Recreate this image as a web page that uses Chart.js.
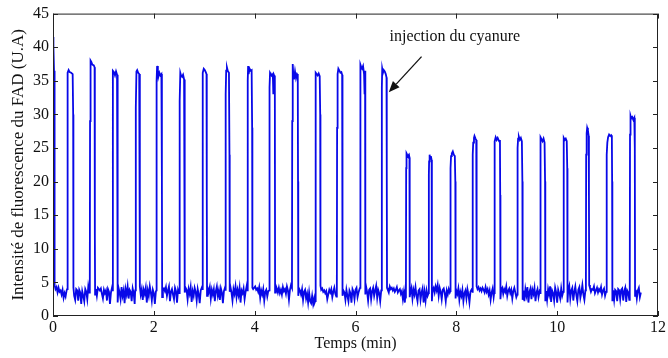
<!DOCTYPE html>
<html>
<head>
<meta charset="utf-8">
<script src="https://cdn.jsdelivr.net/npm/chart.js@4/dist/chart.umd.min.js"></script>
<style>
  html, body { margin: 0; padding: 0; background: #fff; }
  #wrap { width: 668px; height: 358px; position: relative; }
</style>
</head>
<body>
<div id="wrap"><canvas id="c" width="668" height="358"></canvas></div>
<script>
// ---- Data ----
const xTicks = [0, 2, 4, 6, 8, 10, 12];
const yTicks = [0, 5, 10, 15, 20, 25, 30, 35, 40, 45];
const xTitle = "Temps (min)";
const yTitle = "Intensité de fluorescence du FAD (U.A)";
const annotationText = "injection du cyanure";
const annotationTextAt = [7.97, 41.6];   // data coords (min, U.A)
const arrowFrom = [7.31, 38.6];
const arrowTo = [6.66, 33.3];

const temps = [
  0, 0.005, 0.012, 0.02, 0.028, 0.035, 0.05, 0.07, 0.09, 0.11, 0.13, 0.15, 0.17, 0.19, 0.21, 0.23, 0.25, 0.27,
  0.28, 0.285, 0.295, 0.31, 0.33, 0.36, 0.39, 0.40, 0.405, 0.42, 0.44, 0.46, 0.48, 0.50, 0.52, 0.54, 0.56, 0.58, 0.60, 0.62, 0.64, 0.66, 0.68, 0.70, 0.72,
  0.73, 0.735, 0.745, 0.76, 0.78, 0.81, 0.825, 0.83, 0.835, 0.85, 0.87, 0.89, 0.91, 0.93, 0.95, 0.97, 0.99, 1.01, 1.03, 1.05, 1.07, 1.09, 1.11, 1.13, 1.15, 1.17,
  1.18, 1.185, 1.19, 1.21, 1.23, 1.25, 1.27, 1.28, 1.285, 1.30, 1.32, 1.34, 1.36, 1.38, 1.40, 1.42, 1.44, 1.46, 1.48, 1.50, 1.52, 1.54, 1.56, 1.58, 1.60, 1.62, 1.63,
  1.64, 1.645, 1.655, 1.67, 1.69, 1.71, 1.72, 1.725, 1.74, 1.76, 1.78, 1.80, 1.82, 1.84, 1.86, 1.88, 1.90, 1.92, 1.94, 1.96, 1.98, 2.00, 2.02, 2.04,
  2.05, 2.055, 2.065, 2.08, 2.09, 2.11, 2.13, 2.15, 2.16, 2.165, 2.18, 2.20, 2.22, 2.24, 2.26, 2.28, 2.30, 2.32, 2.34, 2.36, 2.38, 2.40, 2.42, 2.44, 2.46, 2.48, 2.50,
  2.51, 2.515, 2.525, 2.54, 2.56, 2.58, 2.60, 2.61, 2.615, 2.63, 2.65, 2.67, 2.69, 2.71, 2.73, 2.75, 2.77, 2.79, 2.81, 2.83, 2.85, 2.87, 2.89, 2.91, 2.93, 2.95,
  2.96, 2.965, 2.975, 2.99, 3.01, 3.03, 3.045, 3.05, 3.055, 3.07, 3.09, 3.11, 3.13, 3.15, 3.17, 3.19, 3.21, 3.23, 3.25, 3.27, 3.29, 3.31, 3.33, 3.35, 3.37, 3.39, 3.41,
  3.42, 3.425, 3.435, 3.45, 3.47, 3.49, 3.50, 3.505, 3.52, 3.54, 3.56, 3.58, 3.60, 3.62, 3.64, 3.66, 3.68, 3.70, 3.72, 3.74, 3.76, 3.78, 3.80, 3.82, 3.84, 3.85,
  3.86, 3.865, 3.87, 3.88, 3.90, 3.92, 3.94, 3.95, 3.955, 3.97, 3.99, 4.01, 4.03, 4.05, 4.07, 4.09, 4.11, 4.13, 4.15, 4.17, 4.19, 4.21, 4.23, 4.25, 4.27,
  4.29, 4.295, 4.305, 4.32, 4.34, 4.36, 4.37, 4.385, 4.40, 4.405, 4.42, 4.44, 4.46, 4.48, 4.50, 4.52, 4.54, 4.56, 4.58, 4.60, 4.62, 4.64, 4.66, 4.68, 4.70, 4.72,
  4.74, 4.745, 4.755, 4.765, 4.78, 4.80, 4.82, 4.84, 4.855, 4.86, 4.865, 4.88, 4.90, 4.92, 4.94, 4.96, 4.98, 5.00, 5.02, 5.04, 5.06, 5.08, 5.10, 5.12, 5.14, 5.16, 5.18, 5.19,
  5.20, 5.205, 5.215, 5.23, 5.25, 5.27, 5.29, 5.30, 5.305, 5.32, 5.34, 5.36, 5.38, 5.40, 5.42, 5.44, 5.46, 5.48, 5.50, 5.52, 5.54, 5.56, 5.58, 5.60, 5.62,
  5.63, 5.635, 5.645, 5.66, 5.68, 5.70, 5.72, 5.735, 5.74, 5.745, 5.76, 5.78, 5.80, 5.82, 5.84, 5.86, 5.88, 5.90, 5.92, 5.94, 5.96, 5.98, 6.00, 6.02, 6.04, 6.06, 6.08,
  6.09, 6.095, 6.10, 6.115, 6.13, 6.15, 6.17, 6.18, 6.19, 6.195, 6.21, 6.23, 6.25, 6.27, 6.29, 6.31, 6.33, 6.35, 6.37, 6.39, 6.41, 6.43, 6.45, 6.47, 6.49, 6.51,
  6.52, 6.525, 6.53, 6.545, 6.56, 6.58, 6.60, 6.615, 6.62, 6.625, 6.64, 6.66, 6.68, 6.70, 6.72, 6.74, 6.76, 6.78, 6.80, 6.82, 6.84, 6.86, 6.88, 6.90, 6.92, 6.94, 6.96, 6.98, 6.99,
  7.00, 7.005, 7.012, 7.025, 7.04, 7.06, 7.07, 7.075, 7.09, 7.11, 7.13, 7.15, 7.17, 7.19, 7.21, 7.23, 7.25, 7.27, 7.29, 7.31, 7.33, 7.35, 7.37, 7.39, 7.41, 7.43,
  7.45, 7.455, 7.46, 7.47, 7.48, 7.495, 7.51, 7.515, 7.53, 7.55, 7.57, 7.59, 7.61, 7.63, 7.65, 7.67, 7.69, 7.71, 7.73, 7.75, 7.77, 7.79, 7.81, 7.83, 7.85, 7.87,
  7.88, 7.885, 7.895, 7.91, 7.93, 7.95, 7.97, 7.98, 7.985, 8.00, 8.02, 8.04, 8.06, 8.08, 8.10, 8.12, 8.14, 8.16, 8.18, 8.20, 8.22, 8.24, 8.26, 8.28, 8.30,
  8.32, 8.325, 8.335, 8.35, 8.36, 8.38, 8.395, 8.40, 8.405, 8.42, 8.44, 8.46, 8.48, 8.50, 8.52, 8.54, 8.56, 8.58, 8.60, 8.62, 8.64, 8.66, 8.68, 8.70, 8.72, 8.74,
  8.75, 8.755, 8.765, 8.78, 8.80, 8.82, 8.85, 8.865, 8.87, 8.875, 8.89, 8.91, 8.93, 8.95, 8.97, 8.99, 9.01, 9.03, 9.05, 9.07, 9.09, 9.11, 9.13, 9.15, 9.17, 9.19,
  9.21, 9.215, 9.225, 9.24, 9.26, 9.28, 9.30, 9.31, 9.315, 9.33, 9.35, 9.37, 9.39, 9.41, 9.43, 9.45, 9.47, 9.49, 9.51, 9.53, 9.55, 9.57, 9.59, 9.61, 9.63, 9.65,
  9.66, 9.665, 9.675, 9.69, 9.71, 9.73, 9.75, 9.76, 9.765, 9.78, 9.80, 9.82, 9.84, 9.86, 9.88, 9.90, 9.92, 9.94, 9.96, 9.98, 10.00, 10.02, 10.04, 10.06, 10.08, 10.10,
  10.12, 10.125, 10.135, 10.15, 10.17, 10.19, 10.20, 10.205, 10.22, 10.24, 10.26, 10.28, 10.30, 10.32, 10.34, 10.36, 10.38, 10.40, 10.42, 10.44, 10.46, 10.48, 10.50, 10.52, 10.54, 10.56,
  10.57, 10.575, 10.585, 10.595, 10.61, 10.625, 10.63, 10.635, 10.65, 10.67, 10.69, 10.71, 10.73, 10.75, 10.77, 10.79, 10.81, 10.83, 10.85, 10.87, 10.89, 10.91, 10.93, 10.95, 10.97,
  10.98, 10.985, 10.995, 11.01, 11.03, 11.05, 11.07, 11.085, 11.09, 11.095, 11.11, 11.13, 11.15, 11.17, 11.19, 11.21, 11.23, 11.25, 11.27, 11.29, 11.31, 11.33, 11.35, 11.37, 11.39, 11.41, 11.43,
  11.44, 11.445, 11.455, 11.47, 11.49, 11.51, 11.53, 11.54, 11.545, 11.56, 11.58, 11.60, 11.62, 11.64, 11.66
];

const intensite = [
  37, 41.5, 40, 36.5, 12, 4.6, 4.0, 4.3, 3.5, 4.2, 3.6, 3.8, 3.2, 3.9, 2.7, 3.4, 2.9, 3.8,
  4.0, 33, 36.2, 36.6, 36.3, 36.2, 36.0, 30, 4.2, 3.0, 2.4, 4.0, 3.8, 2.3, 3.9, 3.5, 1.8, 3.7, 3.0, 2.2, 4.0, 3.6, 2.5, 4.4, 3.5,
  4.0, 29, 38.0, 37.8, 37.4, 37.3, 37.0, 12, 3.2, 4.0, 3.0, 4.2, 4.0, 3.8, 4.1, 3.3, 2.6, 3.9, 3.4, 3.8, 2.3, 4.0, 3.6, 1.8, 3.5, 4.2,
  3.8, 30, 36.5, 36.3, 35.8, 36.4, 35.9, 28, 2.0, 4.2, 3.5, 2.5, 4.3, 3.0, 3.8, 1.9, 4.0, 3.2, 4.4, 2.6, 3.9, 3.6, 2.2, 4.1, 3.4, 1.8, 3.8,
  4.0, 31, 36.4, 36.6, 36.2, 36.0, 22, 4.4, 3.2, 4.0, 2.4, 3.9, 3.3, 4.2, 2.0, 3.8, 3.0, 4.4, 3.5, 2.3, 3.9, 3.4, 1.8, 3.6,
  3.8, 35, 37.2, 36.5, 35.6, 36.2, 35.8, 36.0, 20, 2.8, 3.9, 4.1, 3.7, 4.3, 3.0, 3.8, 4.4, 2.2, 3.6, 4.0, 3.2, 2.5, 4.2, 3.7, 2.0, 3.9, 3.4,
  3.6, 32, 36.2, 35.8, 35.6, 35.9, 35.2, 25, 3.5, 4.2, 3.9, 2.5, 4.0, 3.3, 4.3, 2.1, 3.7, 3.0, 4.2, 3.6, 2.3, 4.0, 3.2, 1.9, 3.8, 4.2,
  4.0, 30, 36.2, 36.8, 36.6, 36.3, 36.0, 18, 3.0, 4.1, 3.6, 4.3, 2.6, 3.9, 3.2, 4.0, 2.2, 3.7, 4.4, 3.0, 3.8, 2.4, 4.1, 3.5, 1.9, 3.7, 4.2,
  3.9, 33, 36.5, 37.0, 36.4, 36.2, 24, 3.6, 4.3, 3.5, 2.3, 4.0, 3.3, 4.4, 2.8, 3.9, 3.1, 4.2, 2.0, 3.8, 3.4, 4.1, 2.5, 3.6, 4.4, 3.8,
  4.0, 35, 37.2, 36.0, 36.8, 36.5, 36.6, 28, 4.2, 4.0, 4.2, 4.4, 3.9, 4.1, 3.6, 4.3, 2.7, 3.8, 3.2, 4.0, 2.3, 3.6, 3.9, 2.9, 3.7,
  3.8, 34, 36.2, 36.0, 35.8, 36.0, 33, 35.8, 35.5, 3.5, 4.5, 4.1, 3.5, 4.2, 3.4, 3.9, 3.2, 4.3, 3.7, 4.0, 3.3, 4.4, 3.8, 2.4, 3.9, 4.6,
  4.2, 29, 37.5, 36.0, 35.2, 36.4, 35.4, 36.0, 35.8, 20, 3.0, 4.1, 3.8, 3.2, 4.0, 2.4, 3.6, 3.9, 2.6, 3.3, 2.0, 3.5, 2.2, 1.9, 3.0, 1.8, 2.6, 2.0,
  2.2, 33, 36.2, 36.0, 35.8, 36.1, 35.7, 30, 4.5, 3.9, 4.1, 3.6, 3.8, 3.4, 3.7, 2.5, 3.2, 3.9, 3.5, 4.0, 2.8, 3.6, 4.2, 3.3, 2.9,
  3.4, 28, 36.0, 36.8, 36.5, 36.2, 36.3, 35.9, 24, 3.0, 3.8, 3.5, 2.4, 3.9, 3.0, 2.2, 3.8, 3.4, 2.0, 4.0, 3.6, 2.5, 3.9, 4.2, 2.8, 3.5, 4.0,
  4.2, 36, 37.4, 37.0, 36.8, 37.2, 36.0, 33, 36.5, 3.2, 4.4, 3.6, 2.3, 3.9, 4.1, 2.5, 3.7, 4.2, 3.0, 3.8, 4.5, 2.7, 3.9, 3.4, 2.2, 3.8,
  4.0, 34, 36.8, 36.2, 36.6, 36.4, 36.0, 35.5, 22, 4.2, 3.9, 3.5, 4.4, 4.0, 4.2, 3.8, 4.1, 3.6, 3.9, 4.3, 3.5, 3.8, 4.0, 3.3, 3.7, 2.5, 3.6, 2.0, 3.4,
  3.2, 22, 24.2, 24.0, 23.8, 24.0, 23.6, 2.8, 3.6, 4.2, 2.6, 3.9, 3.2, 4.3, 3.0, 2.2, 3.8, 4.0, 2.4, 3.5, 4.1, 2.0, 3.6, 2.3, 3.8, 3.0,
  3.4, 21, 23.0, 24.0, 23.5, 23.8, 23.2, 2.2, 3.9, 4.2, 3.5, 4.4, 3.8, 4.6, 3.0, 4.2, 3.6, 2.5, 3.9, 4.1, 3.4, 2.2, 3.8, 3.2, 4.0, 3.5,
  3.7, 22, 23.8, 24.2, 24.5, 24.0, 23.8, 20, 2.6, 3.8, 3.3, 4.1, 2.4, 3.6, 3.0, 3.9, 2.2, 3.4, 3.8, 2.6, 4.0, 3.2, 2.0, 3.6, 3.9,
  3.6, 24, 25.8, 26.5, 26.8, 26.4, 26.2, 20, 4.4, 4.0, 4.3, 3.8, 4.1, 3.7, 4.2, 3.9, 3.5, 4.3, 3.6, 4.0, 3.2, 3.8, 2.4, 3.5, 4.1, 2.8,
  3.4, 24, 26.0, 26.6, 26.2, 26.5, 26.0, 26.2, 18, 2.5, 3.9, 4.2, 3.3, 4.0, 3.6, 4.4, 3.0, 3.8, 4.1, 3.4, 3.9, 2.6, 3.7, 4.2, 3.5, 2.8,
  3.2, 25, 26.4, 26.7, 26.2, 26.5, 26.0, 20, 2.4, 3.8, 2.2, 4.0, 3.1, 4.3, 2.0, 3.6, 4.1, 2.5, 3.9, 3.3, 4.2, 2.2, 3.5, 4.0, 2.8, 3.6,
  3.4, 25, 26.6, 26.3, 26.0, 26.4, 25.8, 20, 2.2, 3.7, 2.4, 4.0, 3.2, 4.4, 2.1, 3.8, 3.4, 2.3, 4.2, 3.5, 2.0, 3.9, 3.3, 2.6, 4.1, 3.0,
  3.6, 24, 26.5, 26.2, 26.4, 26.0, 22, 2.0, 3.9, 4.5, 2.6, 3.8, 4.2, 2.3, 3.6, 4.4, 3.1, 2.2, 3.9, 4.3, 2.7, 3.5, 4.6, 3.2, 2.4, 3.8,
  4.0, 24, 27.2, 28.0, 27.6, 26.8, 18, 4.6, 4.2, 3.6, 4.0, 3.9, 4.4, 3.4, 3.8, 4.2, 3.5, 4.0, 3.7, 4.3, 3.2, 3.8, 4.1, 3.0, 3.6,
  3.8, 24, 25.8, 26.6, 27.0, 26.8, 26.9, 26.5, 20, 2.2, 3.8, 2.4, 3.9, 3.7, 2.2, 4.0, 3.8, 2.5, 3.9, 4.1, 2.3, 3.7, 4.2, 2.1, 3.8, 3.5, 2.4,
  3.4, 27, 29.8, 29.4, 29.6, 29.2, 29.5, 25, 3.0, 3.9, 2.6, 3.8, 4.2, 2.8, 3.5
];

if (temps.length !== intensite.length) {
  console.error("length mismatch", temps.length, intensite.length);
}

const FONT = "'Liberation Serif', 'Times New Roman', serif";
const TICK_LEN = 5;

const framePlugin = {
  id: 'matlabFrame',
  afterDatasetsDraw(chart) {
    const { ctx, chartArea: a, scales: { x, y } } = chart;
    ctx.save();
    ctx.strokeStyle = '#222';
    ctx.lineWidth = 1;
    ctx.strokeRect(a.left + 0.5, a.top + 0.5, a.right - a.left - 1, a.bottom - a.top - 1);
    ctx.beginPath();
    xTicks.forEach(v => {
      const px = Math.round(x.getPixelForValue(v)) + 0.5;
      ctx.moveTo(px, a.bottom); ctx.lineTo(px, a.bottom - TICK_LEN);
      ctx.moveTo(px, a.top); ctx.lineTo(px, a.top + TICK_LEN);
    });
    yTicks.forEach(v => {
      const py = Math.round(y.getPixelForValue(v)) + 0.5;
      ctx.moveTo(a.left, py); ctx.lineTo(a.left + TICK_LEN, py);
      ctx.moveTo(a.right, py); ctx.lineTo(a.right - TICK_LEN, py);
    });
    ctx.stroke();

    // annotation
    ctx.fillStyle = '#111';
    ctx.font = "16px " + FONT;
    ctx.textAlign = 'center';
    ctx.textBaseline = 'middle';
    ctx.fillText(annotationText, x.getPixelForValue(annotationTextAt[0]), y.getPixelForValue(annotationTextAt[1]));

    const x1 = x.getPixelForValue(arrowFrom[0]), y1 = y.getPixelForValue(arrowFrom[1]);
    const x2 = x.getPixelForValue(arrowTo[0]), y2 = y.getPixelForValue(arrowTo[1]);
    const ang = Math.atan2(y2 - y1, x2 - x1);
    const headLen = 11, headW = 4.5;
    const bx = x2 - headLen * Math.cos(ang), by = y2 - headLen * Math.sin(ang);
    ctx.strokeStyle = '#111';
    ctx.lineWidth = 1.3;
    ctx.beginPath();
    ctx.moveTo(x1, y1); ctx.lineTo(bx, by);
    ctx.stroke();
    ctx.beginPath();
    ctx.moveTo(x2, y2);
    ctx.lineTo(bx + headW * Math.sin(ang), by - headW * Math.cos(ang));
    ctx.lineTo(bx - headW * Math.sin(ang), by + headW * Math.cos(ang));
    ctx.closePath();
    ctx.fill();
    ctx.restore();
  }
};

new Chart(document.getElementById('c'), {
  type: 'line',
  data: {
    datasets: [{
      data: temps.map((t, i) => ({ x: t, y: intensite[i] })),
      borderColor: '#0808e8',
      borderWidth: 1.8,
      pointRadius: 0,
      tension: 0,
      fill: false
    }]
  },
  options: {
    responsive: false,
    animation: false,
    events: [],
    layout: { padding: { top: 11, right: 8, left: 0, bottom: 0 } },
    plugins: { legend: { display: false }, tooltip: { enabled: false } },
    scales: {
      x: {
        type: 'linear',
        min: 0, max: 12,
        afterBuildTicks: s => { s.ticks = xTicks.map(v => ({ value: v })); },
        afterFit: s => { s.height = 42; },
        grid: { display: false, drawTicks: false },
        border: { display: false },
        ticks: { color: '#111', font: { family: FONT, size: 16 }, padding: 2, maxRotation: 0 },
        title: { display: true, text: xTitle, color: '#111', font: { family: FONT, size: 16 }, padding: { top: 0, bottom: 5 } }
      },
      y: {
        type: 'linear',
        min: 0, max: 45,
        afterBuildTicks: s => { s.ticks = yTicks.map(v => ({ value: v })); },
        afterFit: s => { s.width = 53; },
        grid: { display: false, drawTicks: false },
        border: { display: false },
        ticks: { color: '#111', font: { family: FONT, size: 16 }, padding: 4 },
        title: { display: true, text: yTitle, color: '#111', font: { family: FONT, size: 17 }, padding: { top: 8, bottom: 0 } }
      }
    }
  },
  plugins: [framePlugin]
});
</script>
</body>
</html>
